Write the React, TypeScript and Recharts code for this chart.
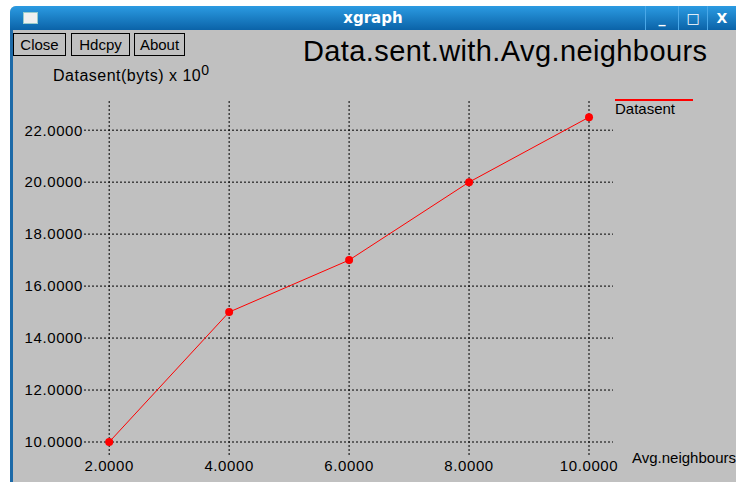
import React from 'react';
import { LineChart, Line, XAxis, YAxis, ReferenceLine } from 'recharts';

// Avg. neighbours vs data sent (x 10^0 bytes)
const neighbours = [2, 4, 6, 8, 10];
const datasent = [10, 15, 17, 20, 22.5];
const xTicks = [2, 4, 6, 8, 10];
const yTicks = [10, 12, 14, 16, 18, 20, 22];
const buttons = ['Close', 'Hdcpy', 'About'];

const data = neighbours.map((n, i) => ({ n, datasent: datasent[i] }));

const FONT = '"Liberation Sans", Arial, sans-serif';
const GRAY = '#c0c0c0';

const App: React.FC = () => {
  return (
    <div style={{ position: 'absolute', left: 0, top: 0, width: 736, height: 482, background: '#fff', overflow: 'hidden' }}>
      {/* window frame */}
      <div
        style={{
          position: 'absolute', left: 10, top: 6, width: 726, height: 476,
          background: GRAY, borderTopLeftRadius: 6, overflow: 'hidden',
        }}
      >
        <div
          style={{
            height: 24, background: 'linear-gradient(#2b9be2, #0b63a8)', color: '#fff',
            fontFamily: '"DejaVu Sans", sans-serif', fontWeight: 'bold', fontSize: 15,
            textAlign: 'center', lineHeight: '24px', position: 'relative',
          }}
        >
          xgraph
          <div style={{ position: 'absolute', left: 13, top: 6, width: 13, height: 10, background: '#f0f0f0', border: '1px solid #9cc' }} />
          <div style={{ position: 'absolute', right: 0, top: 0, height: 24, display: 'flex', fontSize: 14 }}>
            <div style={{ width: 32, borderLeft: '1px solid #4aa8e8', textAlign: 'center' }}>_</div>
            <div style={{ width: 28, borderLeft: '1px solid #4aa8e8', textAlign: 'center' }}>□</div>
            <div style={{ width: 28, borderLeft: '1px solid #4aa8e8', textAlign: 'center' }}>X</div>
          </div>
        </div>
        <div style={{ position: 'absolute', left: 0, top: 24, width: 3, bottom: 0, background: '#1d6aa8' }} />
      </div>

      {/* buttons */}
      {buttons.map((b, i) => (
        <div
          key={b}
          style={{
            position: 'absolute', left: [13, 71, 134][i], top: 33, width: [53, 59, 51][i], height: 23,
            border: '1px solid #000', boxSizing: 'border-box', fontFamily: FONT, fontSize: 15,
            lineHeight: '21px', textAlign: 'center', color: '#000',
          }}
        >
          {b}
        </div>
      ))}

      <div style={{ position: 'absolute', left: 303, top: 35, fontFamily: FONT, fontSize: 29, letterSpacing: 0.4, color: '#000', whiteSpace: 'nowrap' }}>
        Data.sent.with.Avg.neighbours
      </div>
      <div style={{ position: 'absolute', left: 53, top: 62, fontFamily: FONT, fontSize: 16, letterSpacing: 0.5, color: '#000', whiteSpace: 'nowrap' }}>
        Datasent(byts) x 10<sup style={{ fontSize: 14 }}>0</sup>
      </div>
      <div style={{ position: 'absolute', left: 632, top: 449, fontFamily: FONT, fontSize: 15, color: '#000', whiteSpace: 'nowrap' }}>
        Avg.neighbours
      </div>

      {/* legend */}
      <div style={{ position: 'absolute', left: 615, top: 99, width: 78, fontFamily: FONT, fontSize: 15, color: '#000' }}>
        <div style={{ borderTop: '2px solid #ff0000', lineHeight: '16px' }}>Datasent</div>
      </div>

      <div style={{ position: 'absolute', left: 0, top: 0 }}>
        <LineChart width={736} height={482} data={data} margin={{ top: 99, right: 123, bottom: 7, left: 14 }}>
          <XAxis
            dataKey="n" type="number" domain={[1.58, 10.4]} ticks={xTicks} allowDataOverflow
            axisLine={false} tickLine={false} tickSize={0} tickMargin={5} height={20}
            tickFormatter={(v: number) => v.toFixed(4)}
            tick={{ fill: '#000', fontSize: 15, fontFamily: FONT, letterSpacing: 0.6 }}
          />
          <YAxis
            type="number" domain={[9.5, 23.2]} ticks={yTicks} allowDataOverflow
            axisLine={false} tickLine={false} tickSize={0} tickMargin={1} width={70}
            tickFormatter={(v: number) => v.toFixed(4)}
            tick={{ fill: '#000', fontSize: 15, fontFamily: FONT, letterSpacing: 0.6 }}
          />
          {yTicks.map((t) => (
            <ReferenceLine key={`h${t}`} y={t} stroke="#000" strokeDasharray="2 2" />
          ))}
          {xTicks.map((t) => (
            <ReferenceLine key={`v${t}`} x={t} stroke="#000" strokeDasharray="2 2" />
          ))}
          <Line
            type="linear" dataKey="datasent" name="Datasent" stroke="#ff0000" strokeWidth={1}
            dot={{ r: 4, fill: '#ff0000', stroke: '#ff0000', strokeWidth: 0 }}
            isAnimationActive={false}
          />
        </LineChart>
      </div>
    </div>
  );
};

export default App;
